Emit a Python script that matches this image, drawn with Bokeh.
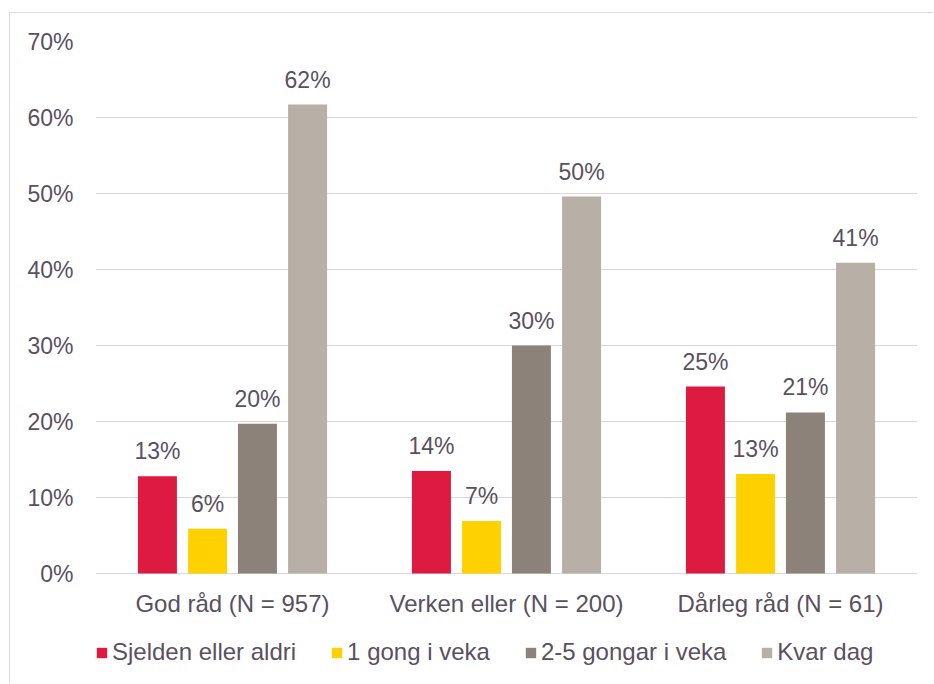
from bokeh.plotting import figure
from bokeh.models import ColumnDataSource, FactorRange, Range1d, NumeralTickFormatter, Legend, LegendItem
from bokeh.transform import dodge
from bokeh.core.properties import value
from bokeh.embed import file_html
from bokeh.resources import INLINE

groups = ["God råd (N = 957)", "Verken eller (N = 200)", "Dårleg råd (N = 61)"]
series = ["Sjelden eller aldri", "1 gong i veka", "2-5 gongar i veka", "Kvar dag"]
sjelden = [0.128, 0.135, 0.246]
ein_gong = [0.059, 0.069, 0.131]
to_fem = [0.197, 0.300, 0.212]
kvar_dag = [0.617, 0.496, 0.409]
y_ticks = [0.0, 0.1, 0.2, 0.3, 0.4, 0.5, 0.6, 0.7]

colors = ["#DE1A41", "#FFD100", "#8C8279", "#B8AFA6"]
offsets = [-0.274, -0.091, 0.091, 0.274]
TEXT = "#5a505f"
GRID = "#d9d6db"
FONT = "Liberation Sans"

data = {"group": groups, "zero": [0.0] * len(groups)}
keys = ["s0", "s1", "s2", "s3"]
for k, vals in zip(keys, [sjelden, ein_gong, to_fem, kvar_dag]):
    data[k] = vals
    data[k + "_lab"] = [f"{round(v * 100)}%" for v in vals]
src = ColumnDataSource(data)

# frame runs down to the bottom edge so the legend below the categories is not clipped
p = figure(x_range=FactorRange(*groups), y_range=Range1d(-0.14605, 0.70),
           width=924, height=671, output_backend="svg", toolbar_location=None,
           x_axis_location=None,
           min_border_left=85, min_border_right=17, min_border_top=28, min_border_bottom=0)
p.styles = {"margin-left": "9px", "margin-top": "12px",
            "border-top": "1px solid #d9d9d9", "border-left": "1px solid #d9d9d9"}
p.outline_line_color = None
p.background_fill_color = "white"
p.border_fill_color = "white"

renderers = []
for k, off, col in zip(keys, offsets, colors):
    r = p.vbar(x=dodge("group", off, range=p.x_range), top=k, width=0.1423,
               source=src, fill_color=col, line_color=None)
    renderers.append(r)
    p.text(x=dodge("group", off, range=p.x_range), y=k, text=k + "_lab", source=src,
           text_align="center", text_baseline="alphabetic", y_offset=-25,
           text_font=value(FONT), text_font_size="23px", text_color=TEXT)

# category labels under the baseline
p.text(x="group", y="zero", text="group", source=src,
       text_align="center", text_baseline="middle", y_offset=30,
       text_font=value(FONT), text_font_size="24px", text_color=TEXT)

p.xgrid.grid_line_color = None
p.ygrid.grid_line_color = GRID
p.ygrid.grid_line_width = 1
p.yaxis.ticker = y_ticks
p.yaxis.formatter = NumeralTickFormatter(format="0%")
p.yaxis.axis_line_color = None
p.yaxis.major_tick_line_color = None
p.yaxis.minor_tick_line_color = None
p.yaxis.major_tick_out = 0
p.yaxis.major_label_standoff = 22
p.yaxis.major_label_text_font = FONT
p.yaxis.major_label_text_font_size = "23px"
p.yaxis.major_label_text_color = TEXT

items = [LegendItem(label=s, renderers=[r]) for s, r in zip(series, renderers)]
legend = Legend(items=items, orientation="horizontal", location=(0, 18),
                padding=0, margin=0, spacing=34, label_standoff=4,
                glyph_width=13, glyph_height=13,
                label_text_font=FONT, label_text_font_size="24px", label_text_color=TEXT,
                border_line_color=None, background_fill_alpha=0)
p.add_layout(legend, "center")

open("out.html", "w").write(file_html(p, INLINE))
